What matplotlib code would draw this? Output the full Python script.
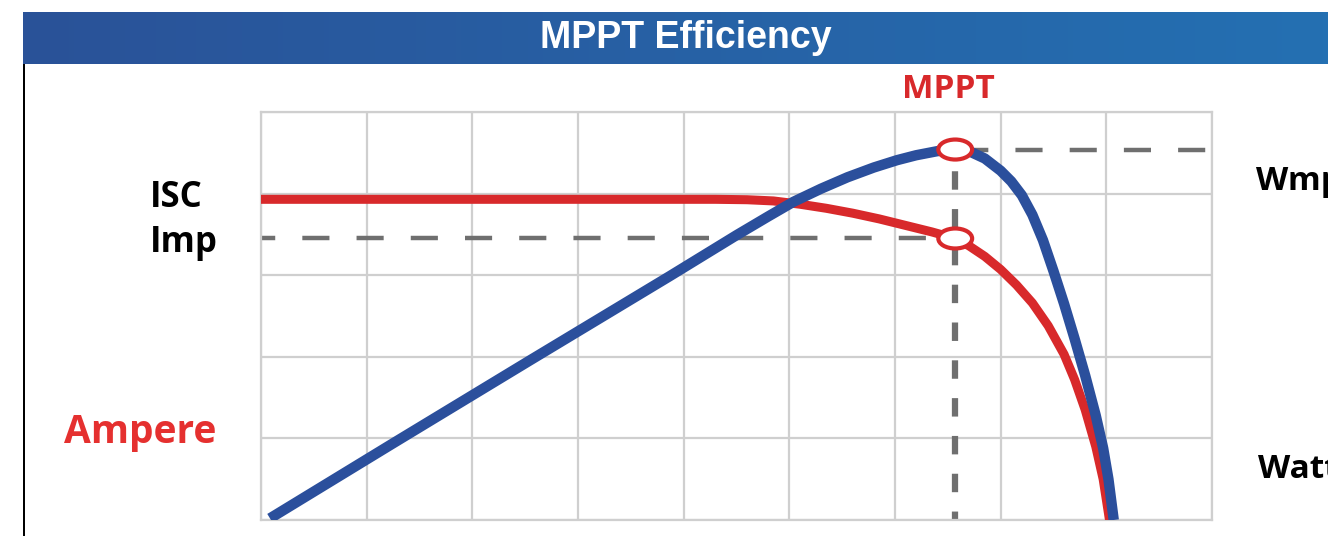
import numpy as np
import matplotlib
matplotlib.use("Agg")
import matplotlib.pyplot as plt
from matplotlib.patches import Ellipse, Rectangle

# Current curve (red), grid units (9 x 5 cells)
current_x = [0.0, 1.0, 2.0, 3.0, 4.0, 4.3, 4.6, 4.85, 5.1, 5.35, 5.6, 5.85,
             6.1, 6.35, 6.57, 6.7, 6.85, 7.0, 7.15, 7.3, 7.45, 7.6, 7.7, 7.8,
             7.9, 7.97, 8.03]
current_y = [3.93, 3.93, 3.93, 3.93, 3.93, 3.93, 3.925, 3.91, 3.87, 3.82, 3.76,
             3.69, 3.61, 3.53, 3.45, 3.36, 3.23, 3.07, 2.88, 2.66, 2.38, 2.03,
             1.72, 1.35, 0.9, 0.5, 0.0]

# Power curve (blue)
power_x = [0.085, 1.25, 2.55, 3.87, 4.5, 4.8, 5.04, 5.3, 5.55, 5.8, 6.02, 6.2,
           6.4, 6.57, 6.7, 6.85, 7.0, 7.1, 7.2, 7.3, 7.4, 7.5, 7.6, 7.7, 7.8,
           7.9, 7.97, 8.02, 8.07]
power_y = [0.02, 0.94, 1.96, 2.99, 3.49, 3.72, 3.9, 4.06, 4.2, 4.32, 4.41, 4.47,
           4.52, 4.54, 4.52, 4.43, 4.28, 4.15, 3.98, 3.74, 3.43, 3.05, 2.65,
           2.22, 1.77, 1.28, 0.88, 0.5, 0.0]

mpp_v = 6.57
mpp_i = 3.45
mpp_w = 4.54

red = "#d8292b"
blue = "#2b4f9c"
dash_grey = "#6f6f6f"

fig = plt.figure(figsize=(13.28, 5.36), dpi=100)

# header bar with a left-to-right gradient
hdr = fig.add_axes([23 / 1328, 1 - 64 / 536, 1 - 23 / 1328, 52 / 536])
hdr.set_axis_off()
c0 = np.array([42, 82, 152]) / 255
c1 = np.array([36, 112, 178]) / 255
t = np.linspace(0, 1, 256)
grad = (c0[None, :] * (1 - t[:, None]) + c1[None, :] * t[:, None])[None, :, :]
hdr.imshow(grad, aspect="auto", extent=[0, 1, 0, 1])
hdr.set_xlim(0, 1)
hdr.set_ylim(0, 1)
fig.text(686 / 1328, 1 - 38 / 536, "MPPT Efficiency", color="white",
         fontsize=27, fontweight="bold", family="Liberation Sans",
         ha="center", va="center")

# left frame line
fig.add_artist(Rectangle((23 / 1328, 0), 2 / 1328, 1 - 64 / 536,
                         transform=fig.transFigure, color="black", lw=0))

ax = fig.add_axes([261 / 1328, 16 / 536, 951 / 1328, 408 / 536])
ax.set_xlim(0, 9)
ax.set_ylim(0, 5)
ax.set_xticks(range(10))
ax.set_yticks(range(6))
ax.grid(True, color="#cfcfcf", lw=1.6)
ax.tick_params(length=0, labelbottom=False, labelleft=False)
for s in ax.spines.values():
    s.set_color("#cfcfcf")
    s.set_linewidth(1.6)

# guide lines
ax.plot([0, mpp_v], [mpp_i, mpp_i], color=dash_grey, lw=3.2,
        linestyle=(2.9, (6.1, 6.1)), dash_capstyle="butt", zorder=2)
ax.plot([mpp_v, 9], [mpp_w, mpp_w], color=dash_grey, lw=3.2,
        linestyle=(10.8, (6.1, 6.1)), dash_capstyle="butt", zorder=2)
ax.plot([mpp_v, mpp_v], [0, mpp_w], color=dash_grey, lw=4.5,
        linestyle=(1.6, (2.95, 3.1)), dash_capstyle="butt", zorder=2)

ax.plot(current_x, current_y, color=red, lw=6.5, solid_capstyle="butt",
        solid_joinstyle="round", zorder=3)
ax.plot(power_x, power_y, color=blue, lw=7.5, solid_capstyle="butt",
        solid_joinstyle="round", zorder=4)

for yy in (mpp_i, mpp_w):
    ax.add_patch(Ellipse((mpp_v, yy), 0.32, 0.245, facecolor="white",
                         edgecolor=red, lw=3, zorder=5))

lab = ["Open Sans", "DejaVu Sans"]
fig.text(948 / 1328, 1 - 89 / 536, "MPPT", color=red, fontsize=24,
         fontweight="bold", family=lab, ha="center", va="center")
fig.text(150 / 1328, 1 - 207 / 536, "ISC", color="black", fontsize=25,
         fontweight="bold", family=lab, ha="left", va="baseline")
fig.text(150 / 1328, 1 - 252 / 536, "Imp", color="black", fontsize=25,
         fontweight="bold", family=lab, ha="left", va="baseline")
fig.text(64 / 1328, 1 - 443 / 536, "Ampere", color="#e5302f", fontsize=28,
         fontweight="bold", family=lab, ha="left", va="baseline")
fig.text(1256 / 1328, 1 - 190 / 536, "Wmp", color="black", fontsize=24,
         fontweight="bold", family=lab, ha="left", va="baseline")
fig.text(1258 / 1328, 1 - 478 / 536, "Watt", color="black", fontsize=24,
         fontweight="bold", family=lab, ha="left", va="baseline")

fig.savefig("out.png", dpi=100)
